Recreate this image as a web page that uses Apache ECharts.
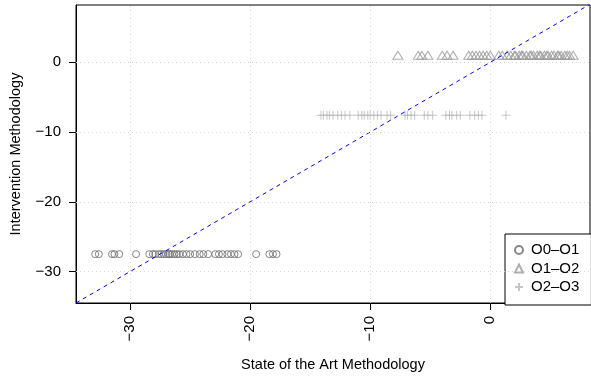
<!DOCTYPE html>
<html>
<head>
<meta charset="utf-8">
<script src="https://cdn.jsdelivr.net/npm/echarts@6/dist/echarts.min.js"></script>
<style>
  html, body { margin: 0; padding: 0; background: #fff; }
  #main { width: 591px; height: 377px; }
</style>
</head>
<body>
<div id="main"></div>
<script>
// axis ranges and ticks
var xRange = [-34.5, 8.3];
var yRange = [-34.5, 8.2];
var xTicks = [-30, -20, -10, 0];
var yTicks = [-30, -20, -10, 0];

// O0-O1 (circles)
var o01X = [-32.9, -32.6, -31.5, -31.3, -30.9, -29.5, -28.4, -28.1, -27.9, -27.6, -27.4,
            -27.2, -27.0, -26.8, -26.7, -26.5, -26.3, -26.1, -25.9, -25.6, -25.3, -25.0,
            -24.6, -24.2, -23.9, -23.5, -22.9, -22.6, -22.3, -21.9, -21.6, -21.3, -21.0,
            -19.5, -18.4, -18.1, -17.8];
var o01Y = -27.5;

// O1-O2 (triangles)
var o12X = [-7.7, -6.0, -5.7, -5.2, -4.0, -3.6, -3.1, -1.8, -1.5, -1.2, -0.9, -0.6, -0.3,
            0.0, 0.7, 1.0, 1.4, 1.7, 2.0, 2.1, 2.4, 2.6, 2.7, 3.0, 3.3, 3.4, 3.6, 3.9,
            4.1, 4.2, 4.5, 4.7, 4.8, 5.1, 5.3, 5.6, 5.7, 5.9, 6.2, 6.4, 6.6, 6.9];
var o12Y = 1.0;

// O2-O3 (pluses)
var o23X = [-14.1, -13.9, -13.6, -13.4, -13.1, -12.7, -12.4, -12.1, -11.7,
            -11.0, -10.7, -10.5, -10.2, -10.0, -9.7, -9.4, -9.1, -8.6, -8.3,
            -7.1, -6.9, -6.6, -6.3, -5.5, -5.2, -4.8, -3.7, -3.4, -3.2, -2.8, -2.5,
            -1.7, -1.3, -1.0, -0.7, 1.3];
var o23Y = -7.6;

var names = ['O0\u2013O1', 'O1\u2013O2', 'O2\u2013O3'];
var colors = ['#6a6a6a', '#9a9a9a', '#b8b8b8'];

var FONT = "'Liberation Sans', Arial, Helvetica, sans-serif";

function pts(xs, y) {
    return xs.map(function (x) { return [x, y]; });
}
function minus(v) {
    return String(v).replace('-', '\u2212');
}

var myChart = echarts.init(document.getElementById('main'));

var gridLines = [];
xTicks.forEach(function (v) { gridLines.push({ xAxis: v }); });
yTicks.forEach(function (v) { gridLines.push({ yAxis: v }); });

var option = {
    animation: false,
    textStyle: { fontFamily: FONT },
    grid: {
        left: 75, right: 1, top: 5, bottom: 72,
        show: true, borderColor: '#000', borderWidth: 1,
        backgroundColor: 'transparent'
    },
    legend: {
        data: names,
        orient: 'vertical',
        left: 505, top: 234,
        padding: [8, 12, 10, 9],
        itemGap: 2.5,
        itemWidth: 8, itemHeight: 8,
        borderColor: '#000', borderWidth: 1,
        backgroundColor: '#fff',
        borderRadius: 0,
        textStyle: { fontSize: 15, color: '#000', lineHeight: 16, fontFamily: FONT, padding: [0, 0, 0, 3] }
    },
    xAxis: {
        type: 'value',
        min: xRange[0], max: xRange[1],
        name: 'State of the Art Methodology',
        nameLocation: 'middle', nameGap: 54,
        nameTextStyle: { fontSize: 14.5, color: '#000', fontFamily: FONT },
        axisLine: { show: true, onZero: false, lineStyle: { color: '#000' } },
        axisTick: { show: true, customValues: xTicks, length: 7, lineStyle: { color: '#000' } },
        axisLabel: {
            customValues: xTicks, rotate: 90, margin: 13,
            fontSize: 15, color: '#000', fontFamily: FONT,
            formatter: minus
        },
        splitLine: { show: false }
    },
    yAxis: {
        type: 'value',
        min: yRange[0], max: yRange[1],
        name: 'Intervention Methodology',
        nameLocation: 'middle', nameGap: 53,
        nameTextStyle: { fontSize: 14.5, color: '#000', fontFamily: FONT },
        axisLine: { show: true, onZero: false, lineStyle: { color: '#000' } },
        axisTick: { show: true, customValues: yTicks, length: 7, lineStyle: { color: '#000' } },
        axisLabel: {
            customValues: yTicks, margin: 15,
            fontSize: 15, color: '#000', fontFamily: FONT,
            formatter: minus
        },
        splitLine: { show: false }
    },
    series: [
        {
            name: 'grid',
            type: 'line',
            data: [],
            z: 1,
            markLine: {
                silent: true, symbol: 'none', label: { show: false },
                lineStyle: { color: '#d3d3d3', type: [1, 3], width: 1 },
                data: gridLines
            }
        },
        {
            name: names[0],
            type: 'scatter',
            symbol: 'circle',
            symbolSize: 7,
            itemStyle: { color: 'rgba(0,0,0,0)', borderColor: colors[0], borderWidth: 1 },
            data: pts(o01X, o01Y),
            z: 3
        },
        {
            name: names[1],
            type: 'scatter',
            symbol: 'triangle',
            symbolSize: [10, 8],
            itemStyle: { color: 'rgba(0,0,0,0)', borderColor: colors[1], borderWidth: 1 },
            data: pts(o12X, o12Y),
            z: 3
        },
        {
            name: names[2],
            type: 'scatter',
            symbol: 'path://M0,5L10,5M5,0L5,10',
            symbolSize: 9,
            itemStyle: { color: 'rgba(0,0,0,0)', borderColor: colors[2], borderWidth: 1 },
            data: pts(o23X, o23Y),
            z: 3
        },
        {
            // y = x reference line across the axis range
            name: 'diag',
            type: 'line',
            data: [[xRange[0], xRange[0]], [xRange[1], xRange[1]]],
            showSymbol: false,
            symbol: 'none',
            silent: true,
            lineStyle: { color: '#0000ff', type: [4, 4], width: 1 },
            z: 4
        }
    ]
};

myChart.setOption(option, true);
</script>
</body>
</html>
